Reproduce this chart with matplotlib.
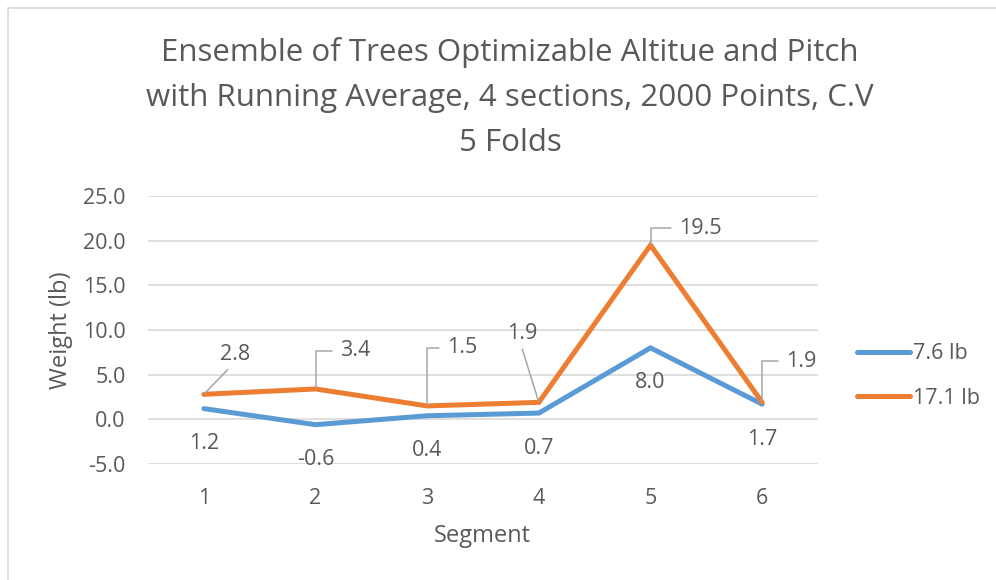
import matplotlib
matplotlib.use("Agg")
import matplotlib.pyplot as plt
from matplotlib.patches import Rectangle

plt.rcParams['font.family'] = ['Open Sans', 'DejaVu Sans']

# data
segments = [1, 2, 3, 4, 5, 6]
light = [1.2, -0.6, 0.4, 0.7, 8.0, 1.7]     # 7.6 lb
heavy = [2.8, 3.4, 1.5, 1.9, 19.5, 1.9]     # 17.1 lb
series_names = ['7.6 lb', '17.1 lb']
title_lines = ['Ensemble of Trees Optimizable Altitue and Pitch',
               'with Running Average, 4 sections, 2000 Points, C.V',
               '5 Folds']
yticks = [-5, 0, 5, 10, 15, 20, 25]

BLUE = '#5B9BD5'
ORANGE = '#ED7D31'
GREY = '#595959'
GRID = '#D9D9D9'
LEADER = '#A6A6A6'
FS = 15.5

fig = plt.figure(figsize=(9.96, 5.80), dpi=100)
fig.patch.set_facecolor('white')
# chart border (box runs off the right/bottom of the picture)
fig.patches.append(Rectangle((8 / 996, -0.05), 1.2, 1 - 8 / 580 + 0.05,
                             transform=fig.transFigure, fill=False,
                             edgecolor=GRID, lw=1.2))

ax = fig.add_axes([148 / 996, 116 / 580, 670 / 996, 268 / 580])

x = list(range(len(segments)))
ax.plot(x, light, color=BLUE, lw=3.6, solid_capstyle='round',
        solid_joinstyle='miter', label=series_names[0], zorder=3)
ax.plot(x, heavy, color=ORANGE, lw=3.6, solid_capstyle='round',
        solid_joinstyle='miter', label=series_names[1], zorder=4)

ax.set_xlim(-0.5, len(segments) - 0.5)
ax.set_ylim(-5, 25)
ax.set_yticks(yticks)
ax.set_yticklabels([f'{v:.1f}' for v in yticks])
ax.set_xticks(x)
ax.set_xticklabels([str(s) for s in segments])
ax.grid(axis='y', color=GRID, lw=1.2)
ax.set_axisbelow(True)
for s in ax.spines.values():
    s.set_visible(False)
ax.tick_params(axis='both', length=0, labelsize=FS, labelcolor=GREY)
ax.tick_params(axis='y', pad=16)
ax.tick_params(axis='x', pad=17)

ax.set_ylabel('Weight (lb)', fontsize=17, color=GREY)
ax.yaxis.set_label_coords(-0.112, 0.5)
ax.set_xlabel('Segment', fontsize=17, color=GREY)
ax.xaxis.set_label_coords(0.4985, -0.225)

# blue labels sit under the points
for xi, v in zip(x, light):
    ax.annotate(f'{v:.1f}', (xi, v), xytext=(0, -35), textcoords='offset pixels',
                ha='center', va='center', fontsize=FS, color=GREY)

# orange labels with leader lines (offsets in pixels, 'e' = elbow, 's' = straight)
heavy_offsets = [(31, 40, 's'), (40, 38, 'e'), (35, 58, 'e'),
                 (-17, 69, 's'), (50, 17, 'e'), (39, 41, 'e')]
for xi, v, (dx, dy, kind) in zip(x, heavy, heavy_offsets):
    if kind == 'e':
        ap = dict(arrowstyle='-', color=LEADER, lw=1.1, shrinkA=4, shrinkB=1,
                  relpos=(0, 0.5), connectionstyle='angle,angleA=180,angleB=90,rad=0')
    else:
        ap = dict(arrowstyle='-', color=LEADER, lw=1.1, shrinkA=2, shrinkB=1,
                  relpos=(0.45, 0.05))
    ax.annotate(f'{v:.1f}', (xi, v), xytext=(dx, dy), textcoords='offset pixels',
                ha='center', va='center', fontsize=FS, color=GREY,
                arrowprops=ap, zorder=5)

for i, line in enumerate(title_lines):
    fig.text(510 / 996, 1 - (53 + 45 * i) / 580, line, ha='center', va='center',
             fontsize=22.5, color=GREY)

fig.legend(loc='center left', bbox_to_anchor=(838 / 996, 1 - 376 / 580),
           frameon=False, fontsize=FS, handlelength=2.45, handletextpad=0.15,
           labelspacing=1.1, labelcolor=GREY)

fig.savefig('out.png', dpi=100)
